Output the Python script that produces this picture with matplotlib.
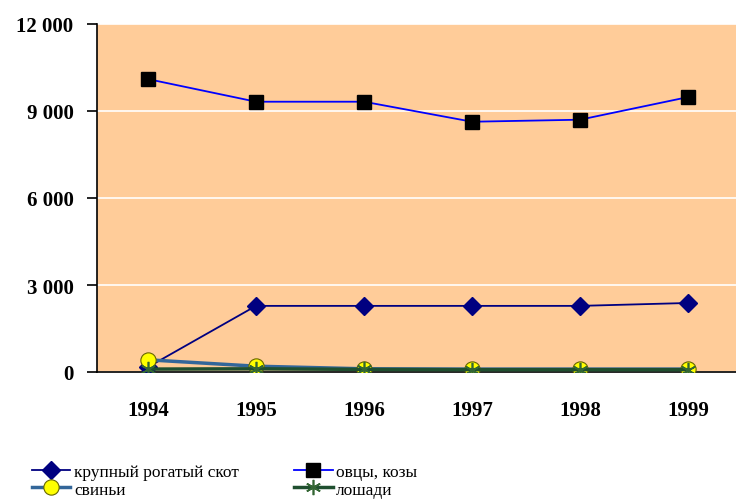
import matplotlib
matplotlib.use("Agg")
import matplotlib.pyplot as plt
from matplotlib.ticker import FuncFormatter

years = ["1994", "1995", "1996", "1997", "1998", "1999"]
cattle = [170, 2280, 2280, 2280, 2280, 2380]
sheep = [10100, 9320, 9320, 8630, 8700, 9480]
pigs = [420, 200, 110, 100, 100, 100]
horses = [100, 110, 90, 80, 80, 80]

labels = ["крупный рогатый скот", "овцы, козы", "свиньи", "лошади"]

fig = plt.figure(figsize=(7.36, 5.02), dpi=100)
ax = fig.add_axes([97/736, 1-373/502, 1-97/736, (373-25)/502])
ax.set_facecolor("#FFCC99")

x = list(range(len(years)))
l1, = ax.plot(x, cattle, color="#000080", lw=1.3, marker="D", ms=9,
              mfc="#000080", mec="#000080", zorder=4)
l2, = ax.plot(x, sheep, color="#0000FF", lw=1.3, marker="s", ms=10,
              mfc="black", mec="black", zorder=4)
l3, = ax.plot(x, pigs, color="#336699", lw=2.5, marker="o", ms=11,
              mfc="#FFFF00", mec="#666600", mew=0.8, zorder=5)
l4, = ax.plot(x, horses, color="#1F4F2F", lw=2.5, marker=(6, 2, 0), ms=11,
              mec="#336633", mew=1.2, zorder=6)

ax.set_ylim(0, 12000)
ax.set_xlim(-0.472, 5.444)
ax.set_yticks([0, 3000, 6000, 9000, 12000])
ax.yaxis.set_major_formatter(FuncFormatter(lambda v, p: f"{int(v):,}".replace(",", " ")))
ax.set_xticks(x)
ax.set_xticklabels(years)
ax.grid(axis="y", color="white", lw=1.2)
ax.set_axisbelow(True)
for s in ["top", "right"]:
    ax.spines[s].set_visible(False)
ax.spines["left"].set_linewidth(1.2)
ax.spines["bottom"].set_linewidth(1.2)
ax.tick_params(axis="y", direction="out", length=7, width=1.2, pad=10)
ax.tick_params(axis="x", length=0, pad=20)
for t in ax.get_yticklabels() + ax.get_xticklabels():
    t.set_fontfamily("Liberation Serif")
    t.set_fontweight("bold")
    t.set_fontsize(15)

leg = fig.legend([l1, l3, l2, l4], [labels[0], labels[2], labels[1], labels[3]],
                 ncol=2, loc="upper left",
                 bbox_to_anchor=(0.032, 0.092), frameon=False,
                 prop={"family": "Liberation Serif", "size": 12.5},
                 handlelength=2.2, handletextpad=0.2, columnspacing=3.2,
                 labelspacing=0.1, borderpad=0)
fig.savefig("out.png", dpi=100)
